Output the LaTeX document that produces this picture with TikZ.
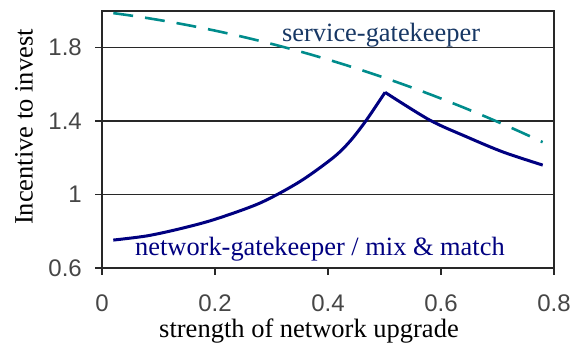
\documentclass[tikz,border=0pt]{standalone}
\usepackage{fontspec}
\setmainfont{Liberation Serif}
\setsansfont{Liberation Sans}
\usepackage{xcolor}
\usepackage{tikz}
\definecolor{servicegreen}{RGB}{0,140,140}
\definecolor{networkblue}{RGB}{0,0,128}
\definecolor{servicetext}{RGB}{23,55,100}
\definecolor{framegray}{RGB}{40,40,40}
\definecolor{tickgray}{RGB}{70,70,70}

\begin{document}
\begin{tikzpicture}[
    gridline/.style={framegray, line width=1.8pt},
    ticklabel/.style={tickgray, inner sep=0pt, font=\sffamily\fontsize{24}{28}\selectfont},
    axislabel/.style={black, inner sep=0pt, font=\fontsize{26.5}{30}\selectfont},
    curvelabel/.style={inner sep=0pt, anchor=base west, font=\fontsize{26.4}{30}\selectfont}]
    \useasboundingbox (0,0) rectangle (586pt,345pt);

    \begin{scope}[shift={(102pt,-33.25pt)}, x=565pt, y=183.75pt]
        % Grid lines
        \draw[gridline] (0,1.0) -- (0.8,1.0);
        \draw[gridline] (0,1.4) -- (0.8,1.4);
        \draw[gridline] (0,1.8) -- (0.8,1.8);

        % Plot frame and ticks
        \draw[gridline] (0,0.6) rectangle (0.8,2.0);
        \draw[gridline] (0,0.6) -- ++(0,-7pt);
        \draw[gridline] (0.2,0.6) -- ++(0,-7pt);
        \draw[gridline] (0.4,0.6) -- ++(0,-7pt);
        \draw[gridline] (0.6,0.6) -- ++(0,-7pt);
        \draw[gridline] (0.8,0.6) -- ++(0,-7pt);
        \draw[gridline] (0,0.6) -- ++(-7pt,0);
        \draw[gridline] (0,1.0) -- ++(-7pt,0);
        \draw[gridline] (0,1.4) -- ++(-7pt,0);
        \draw[gridline] (0,1.8) -- ++(-7pt,0);

        % Tick labels
        \node[ticklabel, anchor=east] (tick06) at ([xshift=-20pt]0,0.6) {0.6};
        \node[ticklabel, anchor=east] (tick10) at ([xshift=-20pt]0,1.0) {1};
        \node[ticklabel, anchor=east] (tick14) at ([xshift=-20pt]0,1.4) {1.4};
        \node[ticklabel, anchor=east] (tick18) at ([xshift=-20pt]0,1.8) {1.8};
        \node[ticklabel, anchor=north] (tickx0) at ([yshift=-27pt]0,0.6) {0};
        \node[ticklabel, anchor=north] (tickx2) at ([yshift=-27pt]0.2,0.6) {0.2};
        \node[ticklabel, anchor=north] (tickx4) at ([yshift=-27pt]0.4,0.6) {0.4};
        \node[ticklabel, anchor=north] (tickx6) at ([yshift=-27pt]0.6,0.6) {0.6};
        \node[ticklabel, anchor=north] (tickx8) at ([yshift=-27pt]0.8,0.6) {0.8};

        % Service-gatekeeper curve
        \draw[servicegreen, line width=2.6pt, dash pattern=on 20pt off 12pt]
            plot[domain=0.02:0.78, samples=40] (\x, {1.995-0.38*\x-0.68*\x*\x});

        % Network-gatekeeper / mix & match curve
        \draw[networkblue, line width=3pt, line join=round]
            plot[smooth] coordinates {(0.02,0.752) (0.08,0.775) (0.14,0.815) (0.2,0.865)
                (0.28,0.954) (0.35,1.07) (0.409,1.2) (0.439,1.29) (0.468,1.405) (0.501,1.556)};
        \draw[networkblue, line width=3pt, line join=round]
            plot[smooth] coordinates {(0.501,1.556) (0.58,1.405) (0.646,1.313) (0.71,1.231) (0.78,1.16)};
    \end{scope}

    % Axis labels
    \node[axislabel, rotate=90] (ylabel) at (24pt,218pt) {Incentive to invest};
    \node[axislabel, anchor=base] (xlabel) at (309pt,7pt) {strength of network upgrade};

    % Curve labels
    \node[curvelabel, servicetext] (servicelabel) at (282pt,303pt) {service-gatekeeper};
    \node[curvelabel, networkblue] (networklabel) at (135pt,89pt) {network-gatekeeper / mix \& match};
\end{tikzpicture}
\end{document}
